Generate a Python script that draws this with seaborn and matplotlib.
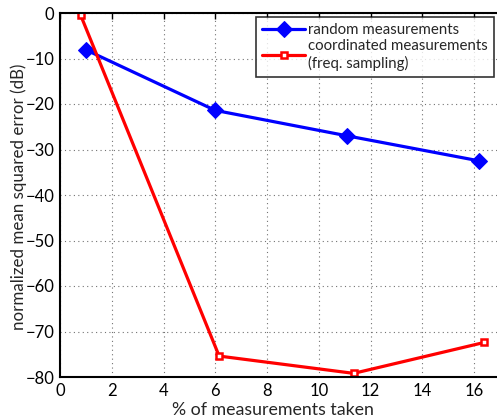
import numpy as np
import pandas as pd
import matplotlib
matplotlib.use('Agg')
import matplotlib.pyplot as plt
import seaborn as sns

# data
random_x = [1.0, 6.0, 11.1, 16.2]
random_y = [-8.1, -21.4, -27.0, -32.5]
coord_x = [0.8, 6.15, 11.35, 16.4]
coord_y = [-0.5, -75.4, -79.2, -72.4]

sns.set_style('white')
plt.rcParams['font.family'] = ['Lato', 'DejaVu Sans']

fig = plt.figure(figsize=(4.97, 4.18), dpi=100)
# axes run past the right edge of the figure, like the cropped original
ax_w = 18*25.875
ax = fig.add_axes([60/497, 41/418, ax_w/497, 364/418])

df_r = pd.DataFrame({'x': random_x, 'y': random_y})
df_c = pd.DataFrame({'x': coord_x, 'y': coord_y})

sns.lineplot(data=df_r, x='x', y='y', ax=ax, color='blue', lw=2.3,
             marker='D', markersize=8, markeredgecolor='blue',
             label='random measurements', sort=False)
sns.lineplot(data=df_c, x='x', y='y', ax=ax, color='red', lw=2.3,
             marker='s', markersize=5, markerfacecolor='white',
             markeredgecolor='red', markeredgewidth=1.8,
             label='coordinated measurements\n(freq. sampling)', sort=False)

ax.set_xlim(0, 18)
ax.set_ylim(-80, 0)
ax.set_xticks(np.arange(0, 17, 2))
ax.set_yticks(np.arange(-80, 1, 10))
ax.set_yticklabels(['\u221280', '\u221270', '\u221260', '\u221250', '\u221240',
                    '\u221230', '\u221220', '\u221210', '0'])
ax.grid(True, linestyle=(0, (1, 3)), color='0.45', linewidth=0.8)
ax.tick_params(direction='in', length=4, width=1, top=True, right=True,
               labelsize=12, colors='black', pad=4)
for s in ax.spines.values():
    s.set_color('black')
    s.set_linewidth(1.5)

ax.set_xlabel('% of measurements taken', fontsize=12.8)
ax.set_ylabel('normalized mean squared error (dB)', fontsize=12.2)
ax.xaxis.set_label_coords((273 - 60) / ax_w, -0.068)
ax.yaxis.set_label_coords((27 - 60) / ax_w, 0.495)

leg = ax.legend(loc='upper right', bbox_to_anchor=(494/497, 1 - 17/418),
                bbox_transform=fig.transFigure, fontsize=10.8,
                frameon=True, fancybox=False, borderpad=0.4,
                handlelength=2.9, handletextpad=0.2, labelspacing=0.15,
                borderaxespad=0)
leg.get_frame().set_edgecolor('black')
leg.get_frame().set_linewidth(1.2)

fig.savefig('out.png', dpi=100)
